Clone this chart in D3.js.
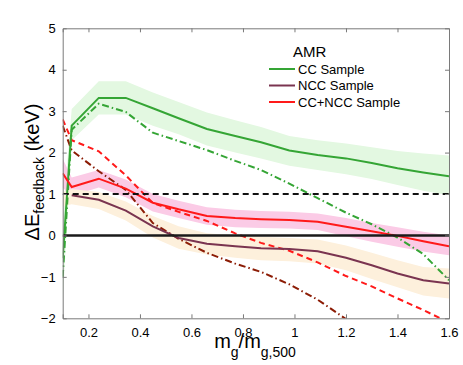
<!DOCTYPE html>
<html>
<head>
<meta charset="utf-8">
<script src="https://cdn.jsdelivr.net/npm/d3@7"></script>
<style>
  html, body { margin: 0; padding: 0; background: #fff; }
  svg { display: block; font-family: "Liberation Sans", Arial, Helvetica, sans-serif; }
</style>
</head>
<body>
<svg id="chart" width="463" height="365"></svg>
<script>
// ---- data ----
const massRatio = [0.1, 0.135, 0.24, 0.345, 0.45, 0.55, 0.66, 0.77, 0.87, 0.98, 1.09, 1.2, 1.3, 1.4, 1.5, 1.6];

const ccSample  = [-0.55, 2.65, 3.32, 3.32, 3.07, 2.83, 2.57, 2.40, 2.25, 2.05, 1.94, 1.86, 1.75, 1.62, 1.52, 1.43];
const ccHigh    = [0.45, 3.05, 3.72, 3.72, 3.45, 3.22, 2.97, 2.78, 2.62, 2.40, 2.30, 2.22, 2.13, 2.04, 1.98, 1.93];
const ccLow     = [-1.6, 2.30, 2.92, 2.92, 2.65, 2.44, 2.17, 2.00, 1.86, 1.68, 1.58, 1.48, 1.36, 1.22, 1.08, 0.97];

const nccSample = [null, 0.97, 0.86, 0.60, 0.22, -0.06, -0.20, -0.26, -0.31, -0.33, -0.38, -0.54, -0.72, -0.92, -1.08, -1.16];
const nccHigh   = [1.05, 1.12, 1.05, 0.82, 0.47, 0.22, 0.05, 0.00, -0.03, -0.06, -0.10, -0.24, -0.42, -0.60, -0.76, -0.80];
const nccLow    = [0.70, 0.75, 0.64, 0.36, -0.05, -0.32, -0.46, -0.54, -0.60, -0.62, -0.68, -0.84, -1.05, -1.25, -1.45, -1.52];

const allSample = [1.50, 1.17, 1.37, 1.13, 0.79, 0.63, 0.47, 0.42, 0.39, 0.37, 0.33, 0.21, 0.10, -0.01, -0.14, -0.26];
const allHigh   = [1.85, 1.40, 1.58, 1.35, 1.00, 0.84, 0.68, 0.62, 0.59, 0.57, 0.53, 0.42, 0.30, 0.20, 0.09, 0.00];
const allLow    = [1.15, 0.95, 1.16, 0.92, 0.58, 0.42, 0.26, 0.20, 0.18, 0.17, 0.13, -0.02, -0.15, -0.27, -0.39, -0.48];

const ccModel   = [-1.0, 2.55, 3.18, 2.98, 2.48, 2.28, 2.06, 1.80, 1.58, 1.25, 0.90, 0.55, 0.27, -0.05, -0.45, -1.08];
const nccModel  = [2.65, 2.05, 1.55, 1.10, 0.30, -0.08, -0.42, -0.68, -0.88, -1.18, -1.55, -2.02, -2.45, null, null, null];
const allModel  = [2.80, 2.30, 2.03, 1.45, 0.78, 0.57, 0.35, 0.05, -0.18, -0.37, -0.65, -0.98, -1.23, -1.52, -1.80, -2.10];

const xTicks = [0.2, 0.4, 0.6, 0.8, 1, 1.2, 1.4, 1.6];
const yTicks = [-2, -1, 0, 1, 2, 3, 4, 5];
const legendTitle = "AMR";
const legendLabels = ["CC Sample", "NCC Sample", "CC+NCC Sample"];

// ---- layout ----
const svg = d3.select("#chart");
const L = 62.7, R = 449, T = 28.3, B = 318.3;
const x = d3.scaleLinear().domain([0.1, 1.6]).range([L, R]);
const y = d3.scaleLinear().domain([-2, 5]).range([B, T]);

const green = "#35a535", purple = "#7a3450", red = "#ff1a1a", darkRed = "#8c1c05";
const fillGreen = "#e3f8e1", fillPink = "#fbcbe6", fillTan = "#fdf0dc";

svg.append("defs").append("clipPath").attr("id", "clip")
  .append("rect").attr("x", L).attr("y", T).attr("width", R - L).attr("height", B - T);

const plot = svg.append("g").attr("clip-path", "url(#clip)");

function band(hi, lo) {
  const d = massRatio.map((m, i) => ({ m, hi: hi[i], lo: lo[i] })).filter(p => p.hi != null);
  return d3.area().x(p => x(p.m)).y0(p => y(p.lo)).y1(p => y(p.hi))(d);
}
function line(vals) {
  const d = massRatio.map((m, i) => ({ m, v: vals[i] }));
  return d3.line().defined(p => p.v != null).x(p => x(p.m)).y(p => y(p.v))(d);
}

plot.append("path").attr("d", band(ccHigh, ccLow)).attr("fill", fillGreen);
plot.append("path").attr("d", band(allHigh, allLow)).attr("fill", fillPink);
plot.append("path").attr("d", band(nccHigh, nccLow)).attr("fill", fillTan);

const dashDot = "7,3,1.5,3";
plot.append("path").attr("d", line(ccModel)).attr("fill", "none").attr("stroke", green)
  .attr("stroke-width", 2).attr("stroke-dasharray", dashDot);
plot.append("path").attr("d", line(nccModel)).attr("fill", "none").attr("stroke", darkRed)
  .attr("stroke-width", 2).attr("stroke-dasharray", dashDot);
plot.append("path").attr("d", line(allModel)).attr("fill", "none").attr("stroke", red)
  .attr("stroke-width", 2).attr("stroke-dasharray", "6,4");

plot.append("path").attr("d", line(ccSample)).attr("fill", "none").attr("stroke", green).attr("stroke-width", 2);
plot.append("path").attr("d", line(nccSample)).attr("fill", "none").attr("stroke", purple).attr("stroke-width", 2);
plot.append("path").attr("d", line(allSample)).attr("fill", "none").attr("stroke", red).attr("stroke-width", 2);

// reference lines
plot.append("line").attr("x1", L).attr("x2", R).attr("y1", y(1)).attr("y2", y(1))
  .attr("stroke", "#111").attr("stroke-width", 2).attr("stroke-dasharray", "6,4");
plot.append("line").attr("x1", L).attr("x2", R).attr("y1", y(0)).attr("y2", y(0))
  .attr("stroke", "#1a1a1a").attr("stroke-width", 2.5);

// ---- axes (box with inward ticks) ----
const axisColor = "#7a7a7a";
const tickLen = 4;
const gx = svg.append("g").attr("transform", `translate(0,${B})`)
  .call(d3.axisBottom(x).tickValues(xTicks).tickSize(-tickLen).tickPadding(9).tickFormat(d3.format("")));
const gxTop = svg.append("g").attr("transform", `translate(0,${T})`)
  .call(d3.axisTop(x).tickValues(xTicks).tickSize(-tickLen).tickFormat(""));
const gy = svg.append("g").attr("transform", `translate(${L},0)`)
  .call(d3.axisLeft(y).tickValues(yTicks).tickSize(-tickLen).tickPadding(7)
    .tickFormat(d => d < 0 ? "\u2212" + Math.abs(d) : String(d)));
const gyRight = svg.append("g").attr("transform", `translate(${R},0)`)
  .call(d3.axisRight(y).tickValues(yTicks).tickSize(-tickLen).tickFormat(""));

[gx, gxTop, gy, gyRight].forEach(g => {
  g.select(".domain").attr("stroke", axisColor).attr("stroke-width", 1);
  g.selectAll(".tick line").attr("stroke", axisColor);
  g.selectAll(".tick text").attr("fill", "#000").attr("font-size", 13)
    .attr("font-family", '"Liberation Sans", Arial, sans-serif');
});
// remove edge ticks that overlap the frame
gx.selectAll(".tick line").filter(d => d === 1.6).remove();
gxTop.selectAll(".tick line").filter(d => d === 1.6).remove();
gy.selectAll(".tick line").filter(d => d === -2 || d === 5).remove();
gyRight.selectAll(".tick line").filter(d => d === -2 || d === 5).remove();

// ---- axis titles ----
const xl = svg.append("text").attr("x", 255).attr("y", 348).attr("text-anchor", "middle")
  .attr("font-size", 20).attr("fill", "#000");
xl.append("tspan").text("m");
xl.append("tspan").attr("font-size", 14).attr("dy", 9).text("g");
xl.append("tspan").attr("dy", -9).text("/m");
xl.append("tspan").attr("font-size", 14).attr("dy", 9).text("g,500");

const yl = svg.append("text").attr("transform", `translate(39,172) rotate(-90)`)
  .attr("text-anchor", "middle").attr("font-size", 20).attr("fill", "#000");
yl.append("tspan").text("\u0394E");
yl.append("tspan").attr("font-size", 14).attr("dy", 5).text("feedback");
yl.append("tspan").attr("dy", -5).text(" (keV)");

// ---- legend ----
const legend = svg.append("g");
legend.append("text").attr("x", 293).attr("y", 57.3).attr("font-size", 15).attr("fill", "#000").text(legendTitle);
const legendColors = [green, purple, red];
legendLabels.forEach((lab, i) => {
  const by = 73.5 + i * 16.5;
  legend.append("line").attr("x1", 269).attr("x2", 295).attr("y1", by - 4.5).attr("y2", by - 4.5)
    .attr("stroke", legendColors[i]).attr("stroke-width", 2);
  legend.append("text").attr("x", 298).attr("y", by).attr("font-size", 13).attr("fill", "#000").text(lab);
});
</script>
</body>
</html>
